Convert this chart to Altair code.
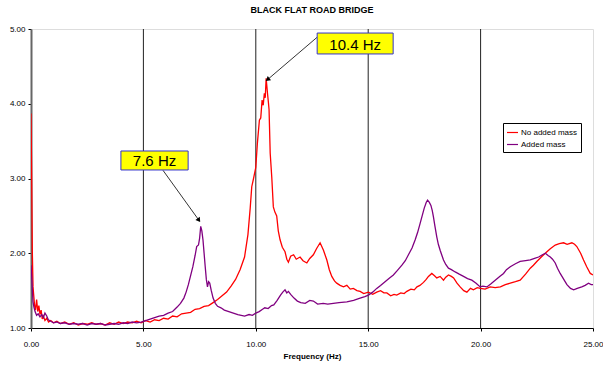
import altair as alt
import pandas as pd

red_hz = [0.00,0.03,0.06,0.09,0.12,0.16,0.20,0.25,0.30,0.35,0.40,0.45,0.50,0.55,0.62,0.70,0.78,0.88,1.00,1.15,1.30,1.50,1.70,1.90,2.10,2.30,2.50,2.70,2.90,3.10,3.30,3.50,3.70,3.90,4.10,4.30,4.50,4.70,4.90,5.10,5.30,5.50,5.70,5.90,6.10,6.30,6.50,6.70,6.90,7.10,7.30,7.50,7.70,7.90,8.10,8.30,8.50,8.70,8.90,9.10,9.30,9.50,9.65,9.75,9.82,9.90,10.00,10.07,10.16,10.22,10.28,10.33,10.38,10.42,10.46,10.52,10.56,10.59,10.64,10.71,10.78,10.85,10.93,11.00,11.08,11.18,11.30,11.38,11.45,11.55,11.68,11.80,11.97,12.10,12.27,12.40,12.56,12.70,12.86,12.95,13.01,13.16,13.27,13.38,13.50,13.60,13.75,13.90,14.05,14.20,14.34,14.50,14.64,14.80,15.01,15.20,15.38,15.55,15.70,15.83,16.00,16.15,16.27,16.45,16.60,16.72,16.90,17.05,17.17,17.30,17.46,17.58,17.68,17.83,17.95,18.05,18.20,18.35,18.45,18.57,18.70,18.80,18.95,19.09,19.25,19.39,19.55,19.68,19.85,19.99,20.20,20.43,20.65,20.88,21.10,21.32,21.55,21.76,22.00,22.21,22.35,22.50,22.70,22.95,23.10,23.32,23.50,23.69,23.85,24.06,24.18,24.28,24.45,24.58,24.72,24.88,25.00]
red_val = [3.87,3.00,2.00,1.55,1.44,1.30,1.24,1.38,1.22,1.30,1.18,1.24,1.12,1.16,1.10,1.13,1.08,1.10,1.07,1.09,1.06,1.08,1.05,1.07,1.04,1.06,1.05,1.07,1.05,1.06,1.04,1.07,1.05,1.08,1.06,1.08,1.07,1.09,1.07,1.10,1.08,1.11,1.10,1.13,1.12,1.16,1.15,1.19,1.20,1.21,1.25,1.26,1.29,1.30,1.34,1.38,1.43,1.48,1.56,1.65,1.78,1.95,2.25,2.60,2.89,3.00,3.15,3.47,3.78,3.81,4.05,3.98,4.14,4.08,4.34,4.14,4.02,3.92,3.34,3.02,2.62,2.55,2.50,2.30,2.18,2.08,2.02,1.92,1.88,1.96,1.98,1.92,1.95,1.90,1.87,1.93,1.98,2.06,2.14,2.08,2.04,1.91,1.78,1.69,1.63,1.60,1.57,1.55,1.57,1.52,1.53,1.50,1.49,1.46,1.48,1.45,1.48,1.50,1.47,1.47,1.43,1.45,1.44,1.47,1.46,1.49,1.52,1.51,1.55,1.57,1.61,1.65,1.69,1.73,1.70,1.67,1.69,1.64,1.68,1.71,1.69,1.67,1.60,1.55,1.50,1.48,1.53,1.51,1.54,1.53,1.52,1.55,1.54,1.55,1.58,1.60,1.62,1.64,1.72,1.80,1.84,1.89,1.95,2.02,2.06,2.11,2.13,2.14,2.12,2.14,2.12,2.09,2.00,1.91,1.82,1.73,1.71]

purple_hz = [0.00,0.03,0.06,0.09,0.13,0.18,0.25,0.32,0.40,0.48,0.55,0.62,0.70,0.77,0.88,1.00,1.15,1.30,1.50,1.70,1.90,2.10,2.30,2.50,2.70,2.90,3.10,3.30,3.50,3.70,3.90,4.10,4.30,4.50,4.70,4.90,5.10,5.30,5.50,5.70,5.90,6.10,6.30,6.50,6.65,6.80,6.90,7.00,7.10,7.20,7.30,7.37,7.45,7.50,7.55,7.60,7.65,7.70,7.75,7.80,7.85,7.90,7.95,8.02,8.10,8.20,8.30,8.45,8.60,8.80,9.00,9.20,9.35,9.50,9.70,9.85,10.00,10.15,10.30,10.40,10.55,10.70,10.80,10.95,11.10,11.20,11.30,11.38,11.45,11.55,11.70,11.85,12.00,12.20,12.40,12.56,12.75,13.00,13.20,13.45,13.70,14.05,14.35,14.64,14.85,15.01,15.20,15.38,15.55,15.75,15.95,16.12,16.30,16.50,16.65,16.79,16.95,17.09,17.20,17.31,17.40,17.49,17.58,17.64,17.72,17.79,17.85,17.90,17.97,18.05,18.12,18.20,18.28,18.35,18.45,18.57,18.70,18.87,19.05,19.24,19.42,19.61,19.80,19.98,20.10,20.28,20.45,20.65,20.85,21.02,21.15,21.32,21.55,21.76,22.00,22.21,22.40,22.58,22.75,22.88,23.00,23.10,23.20,23.32,23.42,23.54,23.70,23.84,24.00,24.14,24.30,24.50,24.65,24.80,24.92,25.00]
purple_val = [1.84,1.70,1.51,1.35,1.28,1.22,1.17,1.19,1.15,1.18,1.14,1.20,1.16,1.11,1.09,1.07,1.08,1.06,1.07,1.05,1.06,1.05,1.06,1.04,1.06,1.05,1.06,1.04,1.05,1.06,1.05,1.07,1.06,1.08,1.07,1.08,1.10,1.12,1.14,1.16,1.17,1.20,1.22,1.28,1.33,1.40,1.48,1.58,1.70,1.82,1.97,2.09,2.11,2.20,2.36,2.30,2.18,2.00,1.82,1.65,1.55,1.62,1.60,1.50,1.40,1.33,1.29,1.27,1.24,1.22,1.20,1.18,1.17,1.16,1.18,1.17,1.20,1.22,1.25,1.27,1.26,1.30,1.31,1.37,1.44,1.48,1.51,1.47,1.49,1.45,1.40,1.36,1.34,1.33,1.37,1.36,1.32,1.33,1.32,1.33,1.34,1.35,1.37,1.40,1.42,1.44,1.48,1.53,1.57,1.62,1.67,1.71,1.77,1.84,1.90,1.98,2.07,2.18,2.28,2.40,2.50,2.60,2.68,2.71,2.68,2.64,2.57,2.49,2.36,2.22,2.12,2.04,1.97,1.91,1.85,1.80,1.78,1.75,1.72,1.69,1.66,1.64,1.60,1.55,1.56,1.55,1.59,1.64,1.69,1.73,1.78,1.82,1.86,1.89,1.90,1.91,1.93,1.95,1.98,2.00,1.97,1.95,1.92,1.87,1.80,1.73,1.65,1.58,1.53,1.51,1.53,1.55,1.57,1.60,1.58,1.58]

series_names = ["No added mass", "Added mass"]
series_colors = ["#FF0000", "#800080"]
x_ticks = [0, 5, 10, 15, 20, 25]
y_ticks = [1.0, 1.5, 2.0, 2.5, 3.0, 3.5, 4.0, 4.5, 5.0]
grid_x = [5, 10, 15, 20]

labels = ["10.4 Hz", "7.6 Hz"]

FONT = "Liberation Sans"

df = pd.concat([
    pd.DataFrame({"hz": red_hz, "amp": red_val, "series": series_names[0], "order": range(len(red_hz))}),
    pd.DataFrame({"hz": purple_hz, "amp": purple_val, "series": series_names[1], "order": range(len(purple_hz))}),
])

xs = alt.Scale(domain=[0, 25], nice=False, zero=False)
ys = alt.Scale(domain=[1, 5], nice=False, zero=False)

grid = alt.Chart(pd.DataFrame({"g": grid_x})).mark_rule(color="#222222", strokeWidth=1).encode(
    x=alt.X("g:Q", scale=xs)
)

lines = alt.Chart(df).mark_line(strokeWidth=1.3, clip=True).encode(
    x=alt.X("hz:Q", scale=xs, title="Frequency (Hz)",
            axis=alt.Axis(values=x_ticks, format=".2f", grid=False, labelFontSize=8, labelFlush=False,
                          labelFont=FONT, titleFont=FONT, titleFontSize=8, titleFontWeight="bold",
                          domainColor="#000000", tickColor="#000000", tickSize=3,
                          labelPadding=9, titlePadding=4, labelColor="#000000", titleColor="#000000")),
    y=alt.Y("amp:Q", scale=ys, title=None,
            axis=alt.Axis(values=y_ticks, format=".2f", grid=False, labelFontSize=8, labelFont=FONT,
                          labelFlush=False,
                          domainColor="#666666", domainWidth=2, tickColor="#000000", tickSize=3,
                          labelPadding=3, labelColor="#000000")),
    color=alt.Color("series:N", scale=alt.Scale(domain=series_names, range=series_colors),
                    legend=alt.Legend(title=None, orient="none", legendX=472, legendY=94,
                                      symbolType="stroke", symbolStrokeWidth=1.2, symbolSize=120,
                                      labelFontSize=8, labelFont=FONT, strokeColor="#000000",
                                      fillColor="#FFFFFF", padding=3, rowPadding=1, labelOffset=2)),
    order="order:Q",
    detail="series:N",
)

ann = pd.DataFrame({
    "label": labels,
    "x1": [12.73, 4.00], "x2": [16.11, 6.99],
    "y1": [4.666, 3.114], "y2": [4.946, 3.368],
    "xc": [14.42, 5.495], "yc": [4.806, 3.241],
    "ax": [12.73, 5.87], "ay": [4.89, 3.11],
    "tx": [10.55, 7.45], "ty": [4.33, 2.45],
    "ang": [232, 145],
})

boxes = alt.Chart(ann).mark_rect(fill="#FFFF00", stroke="#3333CC", strokeWidth=1).encode(
    x=alt.X("x1:Q", scale=xs), x2="x2:Q", y=alt.Y("y1:Q", scale=ys), y2="y2:Q"
)
texts = alt.Chart(ann).mark_text(fontSize=15, font=FONT, color="#000000", baseline="middle", align="center", dy=1).encode(
    x=alt.X("xc:Q", scale=xs), y=alt.Y("yc:Q", scale=ys), text="label:N"
)
arrow_lines = alt.Chart(ann).mark_rule(color="#000000", strokeWidth=0.8).encode(
    x=alt.X("ax:Q", scale=xs), x2="tx:Q", y=alt.Y("ay:Q", scale=ys), y2="ty:Q"
)
heads = alt.Chart(ann).mark_point(shape="triangle", filled=True, color="#000000", size=28, opacity=1).encode(
    x=alt.X("tx:Q", scale=xs), y=alt.Y("ty:Q", scale=ys), angle=alt.Angle("ang:Q", scale=None)
)

chart = alt.layer(grid, lines, arrow_lines, heads, boxes, texts).properties(
    width=562, height=299,
    title=alt.TitleParams("BLACK FLAT ROAD BRIDGE", fontSize=9, font=FONT, fontWeight="bold",
                          anchor="middle", offset=10, color="#000000"),
    autosize=alt.AutoSizeParams(type="none"),
    padding={"left": 31, "top": 29, "right": 10, "bottom": 37},
).configure_view(stroke="#999999", strokeWidth=1).configure(background="#FFFFFF")

chart.save("out.html", embed_options={"renderer": "svg", "actions": False})
